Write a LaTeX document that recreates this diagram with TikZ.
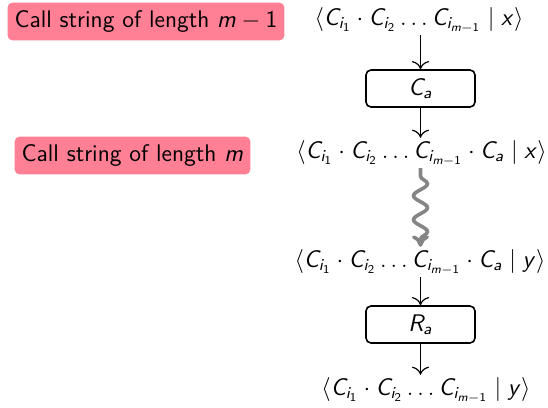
\documentclass[tikz,border=0pt,12pt]{standalone}
\usepackage{xcolor}
\usepackage{tikz}
\usetikzlibrary{arrows.meta,positioning,decorations.pathmorphing}
\renewcommand{\familydefault}{\sfdefault}
\DeclareSymbolFont{sfit}{OT1}{cmss}{m}{sl}
\DeclareSymbolFont{sfup}{OT1}{cmss}{m}{n}
\DeclareMathSymbol{C}{\mathalpha}{sfit}{`C}
\DeclareMathSymbol{R}{\mathalpha}{sfit}{`R}
\DeclareMathSymbol{a}{\mathalpha}{sfit}{`a}
\DeclareMathSymbol{i}{\mathalpha}{sfit}{`i}
\DeclareMathSymbol{m}{\mathalpha}{sfit}{`m}
\DeclareMathSymbol{x}{\mathalpha}{sfit}{`x}
\DeclareMathSymbol{y}{\mathalpha}{sfit}{`y}
\DeclareMathSymbol{1}{\mathalpha}{sfup}{`1}
\DeclareMathSymbol{2}{\mathalpha}{sfup}{`2}
\definecolor{alert}{HTML}{FF8094}
\definecolor{squiggle}{HTML}{858585}
\newcommand{\callseq}{C_{i_1}\cdot C_{i_2}\ldots C_{i_{m-1}}}

\begin{document}
\begin{tikzpicture}[x=0.5pt,y=-0.5pt, every node/.style={font=\fontsize{12}{14}\selectfont}, tag/.style={fill=alert,rounded corners=2.5pt,inner xsep=3.5pt,minimum height=17.5pt}, state/.style={inner sep=1pt}, op/.style={draw,thick,rounded corners=2.5pt,minimum width=54.5pt,minimum height=18.5pt}, arr/.style={-{To[scale=1.4]},semithick}, wig/.style={-{To[length=2mm,width=3mm]},draw=squiggle,line width=1.8pt,decorate,decoration={snake,amplitude=3.5pt,segment length=12pt,pre length=4pt,post length=3pt}}]
\useasboundingbox (0,0) rectangle (548,408);
\node[tag] (len1) at (146,21.5) {Call string of length $m-1$};
\node[tag] (len2) at (132.5,155.5) {Call string of length $m$};
\node[state] (s1) at (419,20) {$\langle \callseq \mid x\rangle$};
\node[op] (ca) at (420.5,88.5) {$C_a$};
\node[state] (s2) at (421.5,153) {$\langle \callseq\cdot C_a \mid x\rangle$};
\node[state] (s3) at (420,262) {$\langle \callseq\cdot C_a \mid y\rangle$};
\node[op] (ra) at (420.5,324.5) {$R_a$};
\node[state] (s4) at (426,390) {$\langle \callseq \mid y\rangle$};
\draw[arr] (s1.south -| ca) -- (ca); \draw[arr] (ca) -- (ca |- s2.north);
\draw[wig] (ca |- s2.south) -- (ca |- s3.north);
\draw[arr] (ra |- s3.south) -- (ra); \draw[arr] (ra) -- (ra |- s4.north);
\end{tikzpicture}
\end{document}
